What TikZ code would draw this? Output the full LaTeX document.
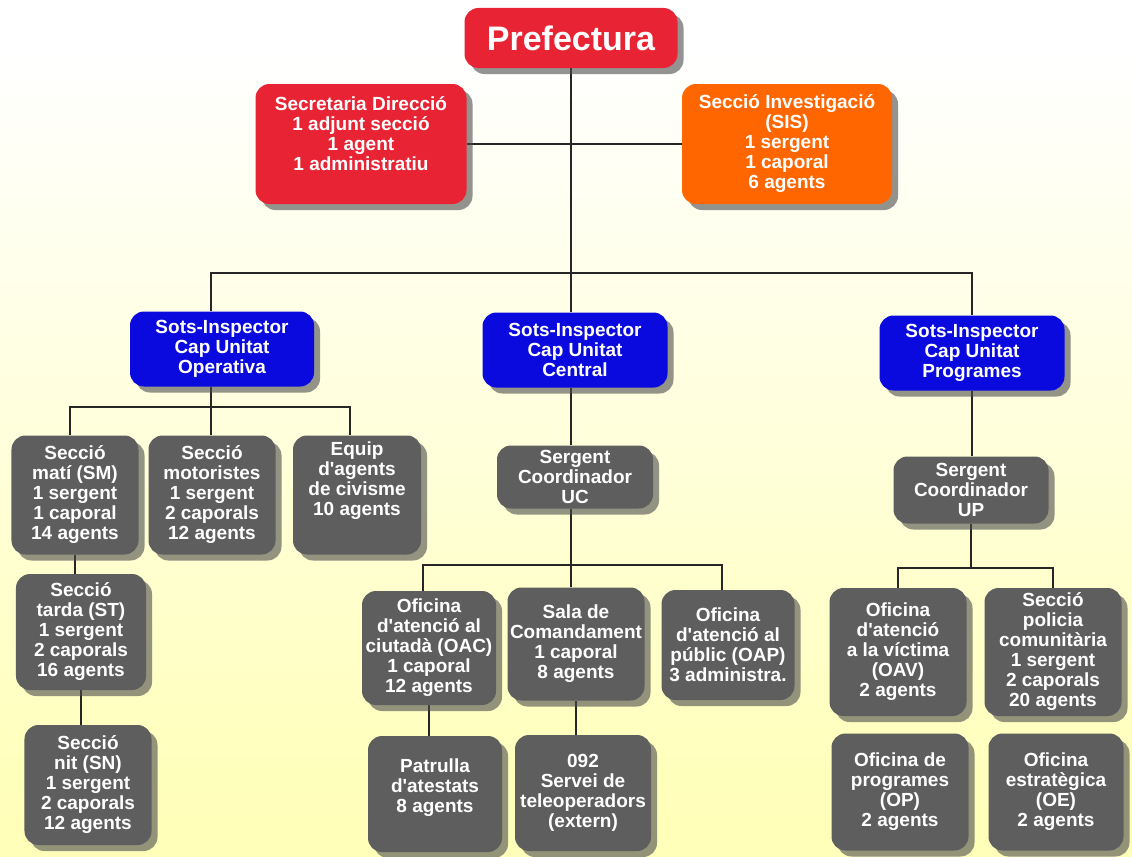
\documentclass[tikz,border=0pt]{standalone}
\usepackage{fontspec}
\setmainfont{Liberation Sans}[Ligatures=TeXOff]
\usetikzlibrary{shadows}
\pgfdeclarelayer{background}
\pgfsetlayers{background,main}
\definecolor{prefred}{RGB}{232,36,52}
\definecolor{sisorange}{RGB}{255,102,0}
\definecolor{capblue}{RGB}{10,10,222}
\definecolor{unitgray}{RGB}{94,94,94}
\definecolor{paperyellow}{RGB}{255,255,166}
\pgfdeclareverticalshading{paper}{100bp}{color(0bp)=(paperyellow); color(30bp)=(paperyellow!75!white); color(72bp)=(white); color(100bp)=(white)}
\tikzset{wh/.style 2 args={minimum width=#1bp, minimum height=#2bp}}

\begin{document}
\begin{tikzpicture}[x=1bp,y=-1bp]
\tikzstyle{box}=[rounded corners=14bp, text=white, align=center, inner sep=0pt,
  font=\bfseries\fontsize{19bp}{20bp}\selectfont,
  drop shadow={shadow xshift=6bp, shadow yshift=-6bp, fill=black!70, opacity=0.6}]
\tikzstyle{chief}=[box, fill=prefred, font=\bfseries\fontsize{34bp}{36bp}\selectfont]
\tikzstyle{staff}=[box, fill=prefred]
\tikzstyle{invest}=[box, fill=sisorange]
\tikzstyle{capbox}=[box, fill=capblue]
\tikzstyle{unit}=[box, fill=unitgray]
\tikzstyle{link}=[black!85, line width=1.5bp]
\path[use as bounding box] (0,0) rectangle (1132,857);

\node[chief, wh={213}{60}] (prefectura) at (571,38) {Prefectura};
\node[staff, wh={211}{120}] (secretaria) at (361,144) {Secretaria Direcció\\1 adjunt secció\\1 agent\\1 administratiu\\[0bp]};
\node[invest, wh={210}{120}] (sis) at (787,144) {Secció Investigació\\(SIS)\\1 sergent\\1 caporal\\6 agents};

\node[capbox, wh={184}{75}] (operativa) at (222,349) {Sots-Inspector\\Cap Unitat\\Operativa};
\node[capbox, wh={185}{75}] (central) at (575,350) {Sots-Inspector\\Cap Unitat\\Central};
\node[capbox, wh={185}{75}] (programes) at (972,353) {Sots-Inspector\\Cap Unitat\\Programes};

\node[unit, wh={127}{119}] (sm) at (75,495) {Secció\\matí (SM)\\1 sergent\\1 caporal\\14 agents};
\node[unit, wh={127}{119}] (motoristes) at (212,495) {Secció\\motoristes\\1 sergent\\2 caporals\\12 agents};
\node[unit, wh={128}{119}] (civisme) at (357,495) {Equip\\d'agents\\de civisme\\10 agents\\[12bp]};
\node[unit, wh={130}{116}] (st) at (81,632) {Secció\\tarda (ST)\\1 sergent\\2 caporals\\16 agents};
\node[unit, wh={127}{120}] (sn) at (88,785) {Secció\\nit (SN)\\1 sergent\\2 caporals\\12 agents};

\node[unit, wh={156}{63}] (uc) at (575,477) {Sergent\\Coordinador\\UC};
\node[unit, wh={134}{114}] (oac) at (429,648) {Oficina\\d'atenció al\\ciutadà (OAC)\\1 caporal\\12 agents};
\node[unit, wh={137}{113}] (sala) at (576,644) {Sala de\\Comandament\\1 caporal\\8 agents};
\node[unit, wh={133}{110}] (oap) at (728,645) {Oficina\\d'atenció al\\públic (OAP)\\3 administra.};
\node[unit, wh={134}{116}] (atestats) at (435,794) {Patrulla\\d'atestats\\8 agents\\[-4bp]};
\node[unit, wh={136}{116}] (tel) at (583,793) {092\\Servei de\\teleoperadors\\(extern)};

\node[unit, wh={155}{67}] (up) at (971,490) {Sergent\\Coordinador\\UP};
\node[unit, wh={137}{128}] (oav) at (898,652) {Oficina\\d'atenció\\a la víctima\\(OAV)\\2 agents};
\node[unit, wh={137}{128}] (comunitaria) at (1053,652) {Secció\\policia\\comunitària\\1 sergent\\2 caporals\\20 agents};
\node[unit, wh={137}{117}] (op) at (900,792) {Oficina de\\programes\\(OP)\\2 agents};
\node[unit, wh={135}{117}] (oe) at (1056,792) {Oficina\\estratègica\\(OE)\\2 agents};

\coordinate (bus0) at (571,273);
\coordinate (opbus) at (211,407);
\coordinate (ucbus) at (571,565);
\coordinate (upbus) at (971,568);

\begin{pgfonlayer}{background}
\shade[shading=paper] (0,0) rectangle (1132,857);
\draw[link] (prefectura) -- (bus0);
\draw[link] (secretaria.east) -- (sis.west);
\draw[link] (operativa.north -| opbus) |- (bus0) -| (programes.north);
\draw[link] (bus0) -- (bus0 |- central.north);
\draw[link] (operativa.south -| opbus) -- (opbus |- motoristes.north);
\draw[link] ([xshift=-5bp]sm.north) |- (opbus) -| ([xshift=-7bp]civisme.north);
\draw[link] (sm.south) -- (sm.south |- st.north);
\draw[link] (st.south) -- (st.south |- sn.north);
\draw[link] (bus0 |- central.south) -- (bus0 |- uc.north);
\draw[link] (bus0 |- uc.south) -- (bus0 |- sala.north);
\draw[link] ([xshift=-6bp]oac.north) |- (ucbus) -| ([xshift=-6bp]oap.north);
\draw[link] (oac.south) -- (oac.south |- atestats.north);
\draw[link] (sala.south) -- (sala.south |- tel.north);
\draw[link] (programes.south) -- (programes.south |- up.north);
\draw[link] (up.south) -- (upbus);
\draw[link] (oav.north) |- (upbus) -| (comunitaria.north);
\end{pgfonlayer}
\end{tikzpicture}
\end{document}
